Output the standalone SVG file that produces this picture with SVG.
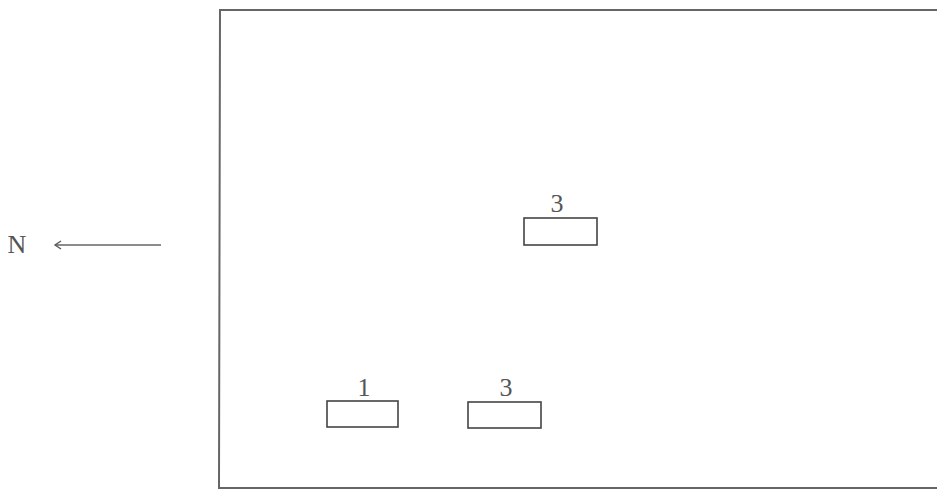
<svg xmlns="http://www.w3.org/2000/svg" width="937" height="490" viewBox="0 0 937 490">
<defs>
<style>
.box{fill:none;stroke:#444;stroke-width:1.6}
.frame{fill:none;stroke:#666;stroke-width:2}
.lbl{font-family:"Liberation Serif","DejaVu Serif",serif;font-size:26px;fill:#555;text-anchor:middle}
.conn{stroke:#666;stroke-width:1.3;fill:none}
</style>
<marker id="ah" markerWidth="10" markerHeight="10" refX="8" refY="5" orient="auto" markerUnits="userSpaceOnUse">
<path d="M2,1 L8,5 L2,9" fill="none" stroke="#555" stroke-width="1.3"/>
</marker>
</defs>
<rect width="937" height="490" fill="#fff"/>
<path class="frame" d="M937,10 L220,10 L219,488 L937,488"/>
<g id="north">
<text class="lbl" x="17" y="253">N</text>
</g>
<g id="box-top-3">
<rect class="box" x="524" y="218" width="73" height="27"/>
<text class="lbl" x="557" y="212">3</text>
</g>
<g id="box-1">
<rect class="box" x="327" y="401" width="71" height="26"/>
<text class="lbl" x="364" y="396">1</text>
</g>
<g id="box-bottom-3">
<rect class="box" x="468" y="402" width="73" height="26"/>
<text class="lbl" x="506" y="396">3</text>
</g>
<g id="connectors">
<line class="conn" x1="161" y1="245" x2="55" y2="245" marker-end="url(#ah)"/>
</g>
</svg>
